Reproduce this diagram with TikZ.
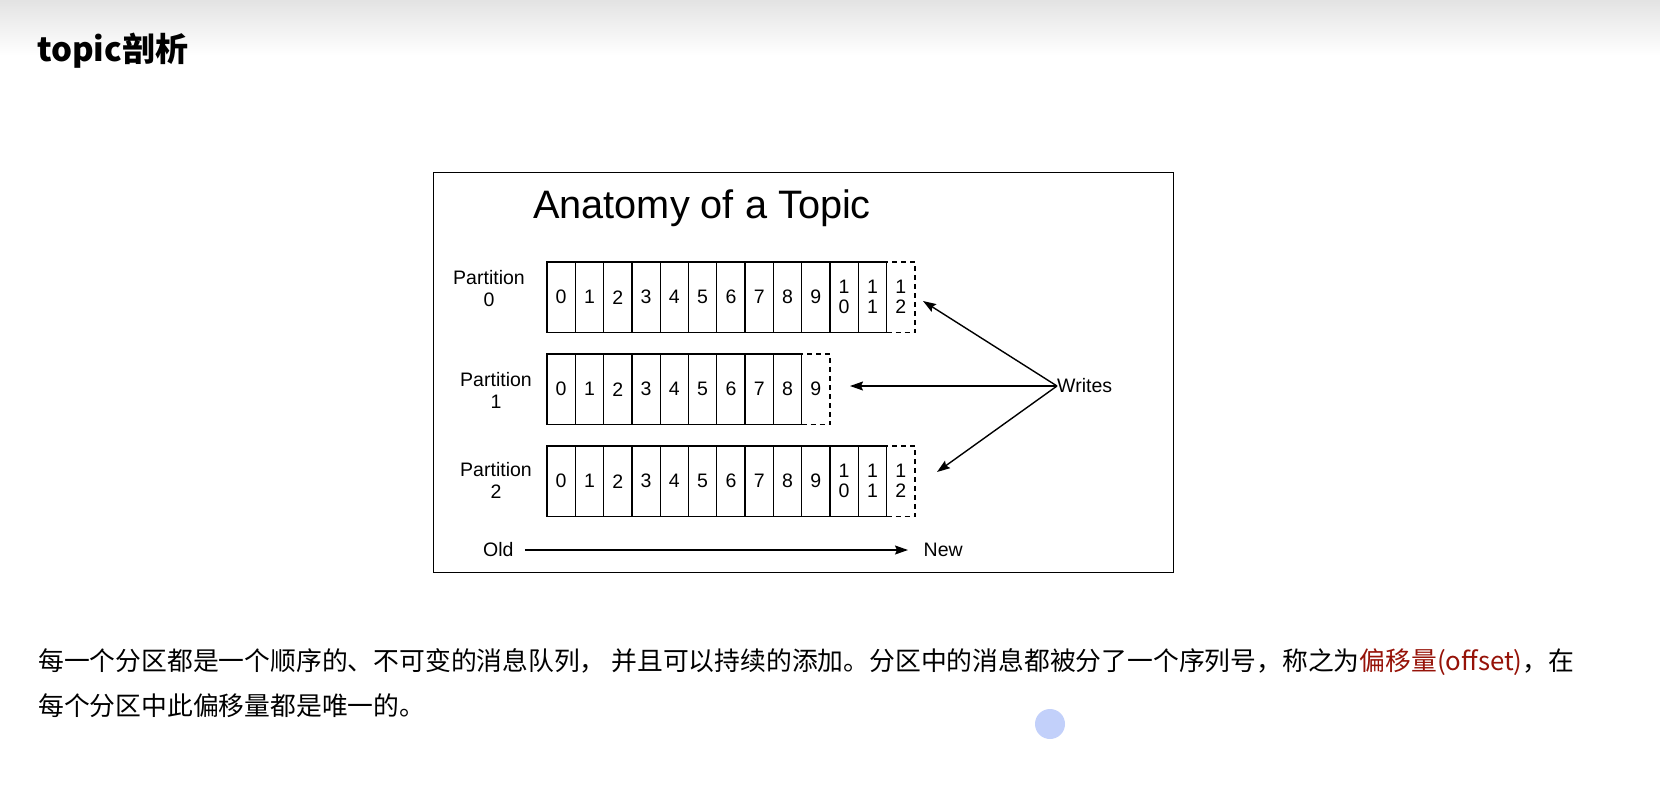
\documentclass[tikz,border=0pt]{standalone}
\usepackage{fontspec}
\setmainfont{Liberation Sans}
\newfontfamily\cjk{Noto Sans CJK SC}
\usepackage{xcolor}
\usetikzlibrary{arrows.meta,positioning}
\definecolor{rojooffset}{RGB}{150,18,8}
\definecolor{cursor}{RGB}{194,208,250}
\tikzset{
  celda/.style={rectangle, draw=black, line width=1.3pt, inner sep=0pt,
                minimum width=28.3pt, minimum height=70.5pt,
                align=center, font=\fontsize{19.5}{20}\selectfont},
  nueva/.style={celda, dash pattern=on 5pt off 4pt},
  etiqueta/.style={align=center, inner sep=0pt,
                   font=\fontsize{19.5}{22}\selectfont},
  flecha/.style={-{Stealth[length=13pt, width=9pt, inset=2pt]}, line width=1.4pt},
  texto/.style={anchor=base west, inner sep=0pt,
                font=\cjk\fontsize{25.8}{30}\selectfont}
}

\begin{document}
\begin{tikzpicture}[x=1pt, y=-1pt]
  % fondo y franja gris de arriba
  \useasboundingbox[fill=white] (0,0) rectangle (1660,787);
  \shade[top color=black!11, bottom color=white] (0,0) rectangle (1660,55);

  \node[anchor=base west, inner sep=0pt,
        font=\cjk\bfseries\fontsize{33}{36}\selectfont] (titulo) at (37,61) {topic剖析};

  % figura
  \draw[line width=1pt] (433.5,172) rectangle (1173,572);
  \node[anchor=base west, inner sep=0pt, font=\fontsize{39.7}{42}\selectfont]
    (anatomia) at (533,218) {Anatomy of a Topic};

  \foreach \i/\t in {0/0,1/1,2/2,3/3,4/4,5/5,6/6,7/7,8/8,9/9,10/{1\\0},11/{1\\1}}
    \node[celda] (a\i) at (561.15+28.3*\i, 297.25) {\t};
  \node[nueva] (a12) at (561.15+28.3*12, 297.25) {1\\2};

  \foreach \i in {0,...,8}
    \node[celda] (b\i) at (561.15+28.3*\i, 389.25) {\i};
  \node[nueva] (b9) at (561.15+28.3*9, 389.25) {9};

  \foreach \i/\t in {0/0,1/1,2/2,3/3,4/4,5/5,6/6,7/7,8/8,9/9,10/{1\\0},11/{1\\1}}
    \node[celda] (c\i) at (561.15+28.3*\i, 481.25) {\t};
  \node[nueva] (c12) at (561.15+28.3*12, 481.25) {1\\2};

  \node[etiqueta] (p0) at (489,289) {Partition\\0};
  \node[etiqueta] (p1) at (496,390) {Partition\\1};
  \node[etiqueta] (p2) at (496,480) {Partition\\2};

  \node[etiqueta, anchor=west] (writes) at (1057,386) {Writes};
  \coordinate (w0) at (923,301);
  \coordinate (w1) at (850,386);
  \coordinate (w2) at (937,472);
  \draw[flecha] (writes.west) -- (w0);
  \draw[flecha] (writes.west) -- (w1);
  \draw[flecha] (writes.west) -- (w2);

  \node[etiqueta, anchor=west] (old) at (483,550) {Old};
  \node[etiqueta, anchor=west] (new) at (923.5,550) {New};
  \draw[flecha, shorten <=11pt, shorten >=15.5pt] (old) -- (new);

  % texto de abajo
  \node[texto] (linea1) at (38,670)
    {每一个分区都是一个顺序的、不可变的消息队列， 并且可以持续的添加。分区中的消息都被分了一个序列号，称之为\textcolor{rojooffset}{偏移量(offset)}，在};
  \node[texto] (linea2) at (38,715) {每个分区中此偏移量都是唯一的。};

  \fill[cursor] (1050,724) circle (15);
\end{tikzpicture}
\end{document}
